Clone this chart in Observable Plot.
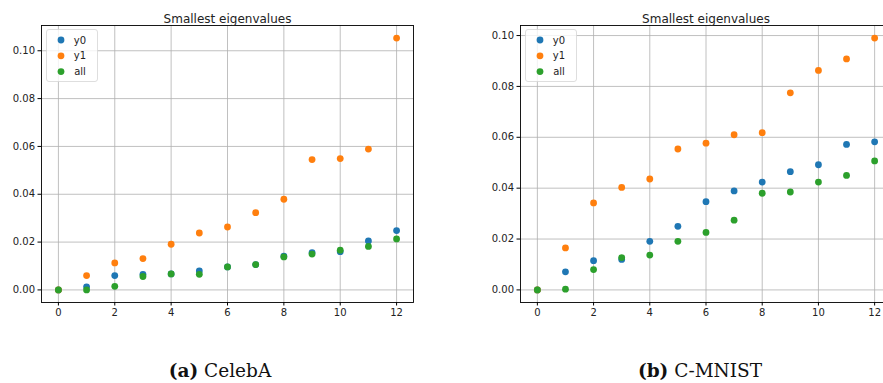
<!DOCTYPE html>
<html>
<head>
<meta charset="utf-8">
<script src="https://cdn.jsdelivr.net/npm/d3@7"></script>
<script src="https://cdn.jsdelivr.net/npm/@observablehq/plot@0.6"></script>
<style>
  html, body { margin: 0; padding: 0; background: #fff; width: 883px; height: 383px; overflow: hidden; }
  #wrap { position: relative; width: 883px; height: 383px; overflow: hidden; }
  .panel { position: absolute; top: 0; }
  .panel svg { max-width: none !important; }
  .cap { position: absolute; top: 361px; font-family: "DejaVu Serif", "Liberation Serif", serif; font-size: 18.5px; line-height: 19px; transform: translateX(-50%); white-space: nowrap; color: #111; }
  .cap b { font-weight: bold; }
</style>
</head>
<body>
<div id="wrap">
  <div id="pa" class="panel" style="left:0px; width:441px"></div>
  <div id="pb" class="panel" style="left:441px; width:460px"></div>
  <div class="cap" style="left:220px"><b>(a)</b> CelebA</div>
  <div class="cap" style="left:700px"><b>(b)</b> C-MNIST</div>
</div>
<script>
// ---- data ----
const indices = [0, 1, 2, 3, 4, 5, 6, 7, 8, 9, 10, 11, 12];
const seriesNames = ["y0", "y1", "all"];
const seriesColors = ["#1f77b4", "#ff7f0e", "#2ca02c"];
const xTicks = [0, 2, 4, 6, 8, 10, 12];
const yTicks = [0, 0.02, 0.04, 0.06, 0.08, 0.10];
const titleText = "Smallest eigenvalues";

const celebA_y0  = [0, 0.0013, 0.0060, 0.0065, 0.0067, 0.0079, 0.0096, 0.0106, 0.0141, 0.0156, 0.0160, 0.0205, 0.0248];
const celebA_y1  = [0, 0.0060, 0.0113, 0.0131, 0.0191, 0.0238, 0.0263, 0.0323, 0.0379, 0.0545, 0.0549, 0.0589, 0.1053];
const celebA_all = [0, 0.0000, 0.0015, 0.0056, 0.0067, 0.0065, 0.0096, 0.0106, 0.0138, 0.0150, 0.0166, 0.0182, 0.0213];

const mnist_y0  = [0, 0.0071, 0.0115, 0.0120, 0.0191, 0.0250, 0.0347, 0.0389, 0.0424, 0.0465, 0.0492, 0.0572, 0.0582];
const mnist_y1  = [0, 0.0165, 0.0342, 0.0403, 0.0436, 0.0554, 0.0577, 0.0610, 0.0618, 0.0775, 0.0863, 0.0908, 0.0990];
const mnist_all = [0, 0.0003, 0.0080, 0.0127, 0.0137, 0.0191, 0.0226, 0.0274, 0.0380, 0.0385, 0.0424, 0.0450, 0.0507];

function tidy(arrs) {
  const out = [];
  arrs.forEach((arr, s) => arr.forEach((v, i) => out.push({x: indices[i], y: v, s: seriesNames[s]})));
  return out;
}

function panel(el, arrs, opts) {
  const data = tidy(arrs);
  const ymax = d3.max(data, d => d.y), ymin = d3.min(data, d => d.y);
  const pad = (ymax - ymin) * 0.05;
  const xpad = (d3.max(indices) - d3.min(indices)) * 0.05;
  const font = "DejaVu Sans, sans-serif";
  const chart = Plot.plot({
    width: opts.width,
    height: 320,
    marginLeft: opts.ml,
    marginRight: opts.mr,
    marginTop: 25,
    marginBottom: 18,
    style: {fontFamily: font, fontSize: "10px", color: "#222", background: "white", overflow: "visible", maxWidth: "none"},
    x: {domain: [d3.min(indices) - xpad, d3.max(indices) + xpad], ticks: xTicks, label: null},
    y: {domain: [ymin - pad, ymax + pad], ticks: yTicks, label: null, tickFormat: d3.format(".2f")},
    color: {domain: seriesNames, range: seriesColors},
    marks: [
      Plot.gridX(xTicks, {stroke: "#b0b0b0", strokeOpacity: 1, strokeWidth: 0.8}),
      Plot.gridY(yTicks, {stroke: "#b0b0b0", strokeOpacity: 1, strokeWidth: 0.8}),
      Plot.dot(data, {x: "x", y: "y", fill: "s", r: 3.4, stroke: null}),
      Plot.frame({stroke: "#000", strokeWidth: 0.9}),
      Plot.axisX(xTicks, {tickSize: 3.5, tickPadding: 3, fontSize: 10, stroke: "#000", fill: "#222"}),
      Plot.axisY(yTicks, {tickSize: 3.5, tickPadding: 3, fontSize: 10, stroke: "#000", fill: "#222", tickFormat: d3.format(".2f")}),
      Plot.text([titleText], {frameAnchor: "top", dy: -11, fontSize: 12, fill: "#222"})
    ]
  });
  // legend
  const svg = d3.select(chart);
  const L = opts.ml, T = 25;
  const g = svg.append("g").attr("font-family", font).attr("font-size", 10);
  g.append("rect").attr("x", L + 5.5).attr("y", T + 4.5).attr("width", 51).attr("height", 52)
    .attr("rx", 2.5).attr("fill", "white").attr("fill-opacity", 0.8).attr("stroke", "#d6d6d6").attr("stroke-width", 0.8);
  seriesNames.forEach((n, i) => {
    const yy = T + 15 + i * 15.8;
    g.append("circle").attr("cx", L + 20).attr("cy", yy).attr("r", 3.4).attr("fill", seriesColors[i]);
    g.append("text").attr("x", L + 39).attr("y", yy).attr("dy", "0.35em").attr("fill", "#222").text(n);
  });
  document.getElementById(el).appendChild(chart);
}

panel("pa", [celebA_y0, celebA_y1, celebA_all], {width: 441, ml: 41, mr: 28});
panel("pb", [mnist_y0, mnist_y1, mnist_all], {width: 460, ml: 79, mr: 10});
</script>
</body>
</html>
